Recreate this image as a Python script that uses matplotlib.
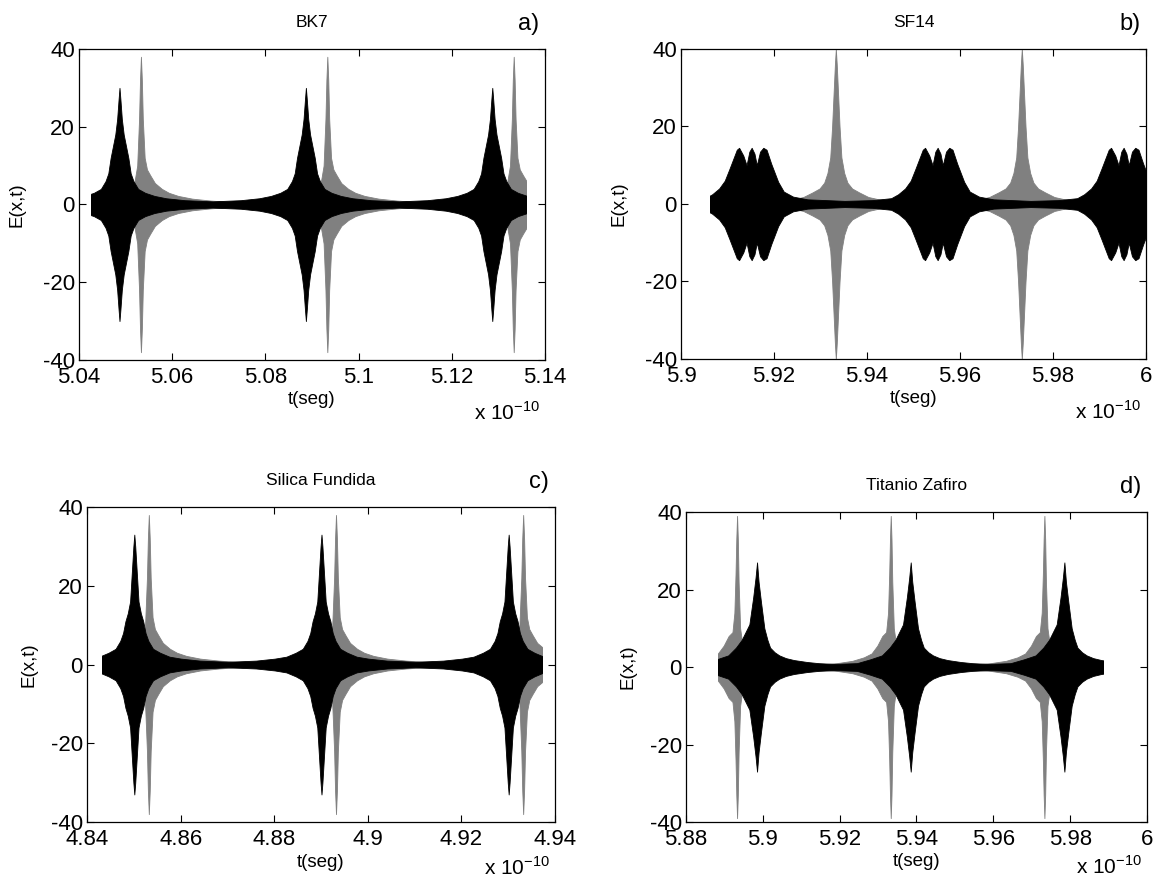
import numpy as np
import matplotlib.pyplot as plt
import matplotlib as mpl
from matplotlib.patches import Rectangle

mpl.rcParams['font.family'] = ['Liberation Sans', 'DejaVu Sans']

# time axis is in units of 1e-10 s, envelopes are read off the picture
# (offset from pulse centre -> half-height of the oscillation)

# shared offsets for the narrow black pulses (a, c)
pulse_dt = [-0.02, -0.014, -0.01, -0.0075, -0.0055, -0.004, -0.003, -0.0024, -0.0019,
            -0.0014, -0.0009, -0.0005, -0.0002, 0.0, 0.0002, 0.0005, 0.0009, 0.0014,
            0.0019, 0.0024, 0.003, 0.004, 0.0055, 0.0075, 0.01, 0.014, 0.02]

# gray spike with tail on the right (a, c)
spike_dt = [-0.02, -0.012, -0.006, -0.003, -0.0015, -0.0008, -0.0004, -0.0002, 0.0,
            0.0002, 0.0004, 0.0008, 0.0013, 0.002, 0.003, 0.0045, 0.006, 0.008, 0.011,
            0.015, 0.02]
spike_amp = [0.5, 0.8, 1.5, 3, 5, 10, 22, 32, 38, 32, 22, 12, 9, 7.5, 5.5, 4, 3, 2.2,
             1.5, 1.0, 0.6]

# a) BK7
bk7_span = (5.0425, 5.1360)
bk7_black_centers = [5.0487, 5.0887, 5.1287]
bk7_black_amp = [0.8, 1.1, 1.6, 2.2, 3, 4, 6, 8, 12, 15, 18, 22, 27, 30, 27, 22, 18, 15,
                 12, 8, 6, 4, 3, 2.2, 1.6, 1.1, 0.8]
bk7_gray_centers = [5.0533, 5.0933, 5.1333]

# b) SF14
sf14_span = (5.9063, 6.0)
sf14_black_centers = [5.9152, 5.9552, 5.9952]
sf14_black_dt = [-0.02, -0.014, -0.01, -0.0085, -0.007, -0.0058, -0.0048, -0.004, -0.0032,
                 -0.0027, -0.0018, -0.0011, -0.0005, 0.0, 0.0006, 0.0011, 0.0018, 0.0025,
                 0.0032, 0.0042, 0.0057, 0.0069, 0.0089, 0.012, 0.02]
sf14_black_amp = [0.8, 1.0, 1.5, 2.5, 4, 6, 9, 11.5, 14, 14.5, 12.5, 10, 13.5, 14.5, 13,
                  10, 13.5, 14.5, 14, 10.4, 5.7, 3.2, 1.9, 1.2, 0.8]
sf14_gray_centers = [5.9333, 5.9733]
sf14_gray_dt = [-0.02, -0.015, -0.01, -0.007, -0.005, -0.0035, -0.0025, -0.0018, -0.0012,
                -0.0008, -0.0005, -0.0002, 0.0, 0.0002, 0.0005, 0.0008, 0.0012, 0.0018,
                0.0025, 0.0035, 0.005, 0.007, 0.01, 0.015, 0.02]
sf14_gray_amp = [0.4, 0.6, 1.0, 1.8, 3, 4, 5.5, 8, 12, 20, 28, 36, 40, 36, 28, 20, 12, 8,
                 5.5, 4, 3, 1.8, 1.0, 0.6, 0.4]

# c) Silica Fundida
sil_span = (4.8431, 4.9372)
sil_black_centers = [4.8501, 4.8901, 4.9301]
sil_black_amp = [0.7, 1.0, 1.5, 2, 3, 4, 6, 8, 11, 13, 16, 24, 30, 33, 30, 24, 16, 13,
                 11, 8, 6, 4, 3, 2, 1.5, 1.0, 0.7]
sil_gray_centers = [4.8532, 4.8932, 4.9332]

# d) Titanio Zafiro
tz_span = (5.8884, 5.9886)
tz_black_centers = [5.8985, 5.9385, 5.9785]
tz_black_dt = [-0.02, -0.014, -0.0105, -0.0075, -0.0055, -0.004, -0.003, -0.002, -0.001,
               -0.0004, 0.0, 0.0004, 0.001, 0.0019, 0.0027, 0.0034, 0.0046, 0.0058,
               0.0075, 0.0096, 0.013, 0.016, 0.02]
tz_black_amp = [0.8, 1.0, 2.0, 3.0, 5.0, 7, 9, 11, 18, 23, 27, 22, 17, 10, 7, 5, 3.8, 3,
                2.3, 1.8, 1.3, 1.0, 0.8]
tz_gray_centers = [5.8933, 5.9333, 5.9733]
tz_gray_dt = [-0.02, -0.014, -0.01, -0.007, -0.005, -0.0035, -0.0022, -0.0012, -0.0007,
              -0.0004, -0.0002, 0.0, 0.0002, 0.0004, 0.0008, 0.0015, 0.003, 0.006, 0.012,
              0.02]
tz_gray_amp = [0.6, 1.0, 1.6, 2.5, 3.5, 5.5, 8, 9, 14, 24, 33, 39, 33, 22, 10, 5, 3, 1.5,
               0.8, 0.5]

# axis ticks
bk7_ticks = [5.04, 5.06, 5.08, 5.10, 5.12, 5.14]
bk7_labels = ['5.04', '5.06', '5.08', '5.1', '5.12', '5.14']
sf14_ticks = [5.90, 5.92, 5.94, 5.96, 5.98, 6.00]
sf14_labels = ['5.9', '5.92', '5.94', '5.96', '5.98', '6']
sil_ticks = [4.84, 4.86, 4.88, 4.90, 4.92, 4.94]
sil_labels = ['4.84', '4.86', '4.88', '4.9', '4.92', '4.94']
tz_ticks = [5.88, 5.90, 5.92, 5.94, 5.96, 5.98, 6.00]
tz_labels = ['5.88', '5.9', '5.92', '5.94', '5.96', '5.98', '6']
y_ticks = [-40, -20, 0, 20, 40]
y_labels = ['-40', '-20', '0', '20', '40']


def draw_train(ax, centers, dt, amp, span, color):
    t = np.concatenate([c + np.array(dt) for c in centers])
    a = np.tile(amp, len(centers))
    poly = ax.fill_between(t, -a, a, color=color, lw=0.6)
    poly.set_clip_path(Rectangle((span[0], -45), span[1] - span[0], 90,
                                 transform=ax.transData))


def style(ax, xticks, xlabels, title, letter, ylab_x, xlab_y, exp_y):
    ax.set_xlim(xticks[0], xticks[-1])
    ax.set_ylim(-40, 40)
    ax.set_xticks(xticks)
    ax.set_xticklabels(xlabels)
    ax.set_yticks(y_ticks)
    ax.set_yticklabels(y_labels)
    ax.tick_params(direction='in', length=5, width=0.8, top=True, right=True,
                   labelsize=16, pad=3)
    ax.tick_params(axis='x', pad=5)
    for s in ax.spines.values():
        s.set_linewidth(0.9)
    ax.set_xlabel('t(seg)', fontsize=13.5)
    ax.xaxis.set_label_coords(0.5, xlab_y)
    ax.set_ylabel('E(x,t)', fontsize=13.5)
    ax.yaxis.set_label_coords(ylab_x, 0.5)
    ax.text(0.5, 1.085, title, transform=ax.transAxes, ha='center', va='center',
            fontsize=12.5)
    ax.text(0.965, 1.08, letter, transform=ax.transAxes, ha='center', va='center',
            fontsize=17)
    ax.text(0.99, exp_y, r'x 10$^{\mathregular{-10}}$', transform=ax.transAxes,
            ha='right', va='center', fontsize=15)


fig = plt.figure(figsize=(11.56, 8.84), dpi=100)

ax_a = fig.add_axes([0.0683, 0.5928, 0.4031, 0.3518])
ax_b = fig.add_axes([0.5891, 0.5939, 0.4022, 0.3507])
ax_c = fig.add_axes([0.0753, 0.0701, 0.4048, 0.3563])
ax_d = fig.add_axes([0.5934, 0.0701, 0.3988, 0.3507])

gray = '#808080'

draw_train(ax_a, bk7_gray_centers, spike_dt, spike_amp, bk7_span, gray)
draw_train(ax_a, bk7_black_centers, pulse_dt, bk7_black_amp, bk7_span, 'black')
style(ax_a, bk7_ticks, bk7_labels, 'BK7', 'a)', -0.114, -0.10, -0.17)

draw_train(ax_b, sf14_gray_centers, sf14_gray_dt, sf14_gray_amp, sf14_span, gray)
draw_train(ax_b, sf14_black_centers, sf14_black_dt, sf14_black_amp, sf14_span, 'black')
style(ax_b, sf14_ticks, sf14_labels, 'SF14', 'b)', -0.114, -0.10, -0.17)

draw_train(ax_c, sil_gray_centers, spike_dt, spike_amp, sil_span, gray)
draw_train(ax_c, sil_black_centers, pulse_dt, sil_black_amp, sil_span, 'black')
style(ax_c, sil_ticks, sil_labels, 'Silica Fundida', 'c)', -0.105, -0.10, -0.145)

draw_train(ax_d, tz_gray_centers, tz_gray_dt, tz_gray_amp, tz_span, gray)
draw_train(ax_d, tz_black_centers, tz_black_dt, tz_black_amp, tz_span, 'black')
style(ax_d, tz_ticks, tz_labels, 'Titanio Zafiro', 'd)', -0.108, -0.10, -0.145)

fig.savefig('out.png', dpi=100)
